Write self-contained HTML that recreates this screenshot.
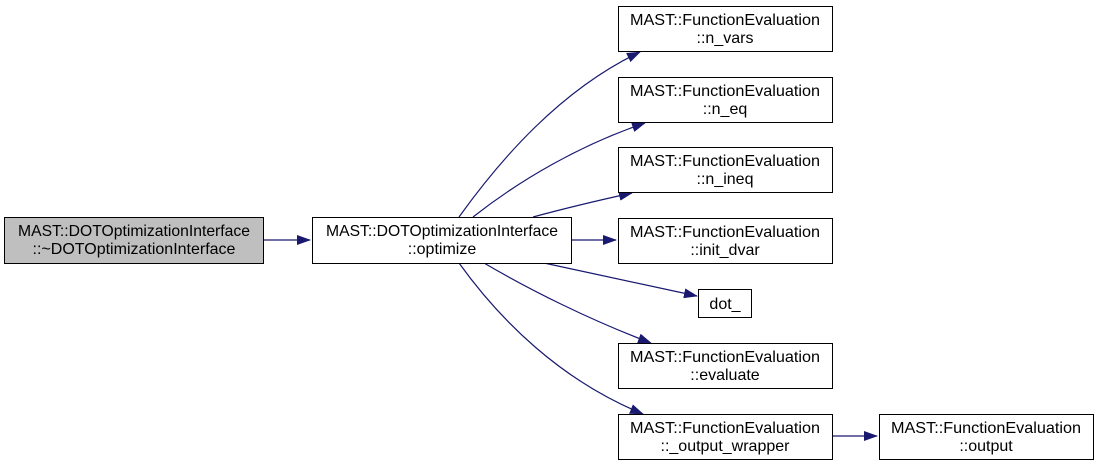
<!DOCTYPE html>
<html><head><style>
body{margin:0;background:#fff;}
svg{display:block;font-family:"Liberation Sans",Arial,sans-serif;font-size:16px;}
</style></head><body>
<svg width="1099" height="465" viewBox="0 0 1099 465">
<defs><marker id="a" markerWidth="14" markerHeight="10" refX="13" refY="5" orient="auto" markerUnits="userSpaceOnUse"><path d="M0,0 L14,5 L0,10 z" fill="#191970"/></marker></defs>
<g fill="none" stroke="#191970" stroke-width="1.2">
<path d="M264,240 L310,240" marker-end="url(#a)"/>
<path d="M459,217 C500,160 560,90 640,52" marker-end="url(#a)"/>
<path d="M473,217 C520,180 580,145 645,123" marker-end="url(#a)"/>
<path d="M533,217 C570,207 600,200 632,193" marker-end="url(#a)"/>
<path d="M571,240 L616,240" marker-end="url(#a)"/>
<path d="M544,263 C590,273 640,284 697,296" marker-end="url(#a)"/>
<path d="M484,263 C530,290 590,320 651,343" marker-end="url(#a)"/>
<path d="M459,263 C500,320 560,380 643,414" marker-end="url(#a)"/>
<path d="M832,436 L877,436" marker-end="url(#a)"/>
</g>
<g stroke="#000" stroke-width="1">
<rect x="4.5" y="217.5" width="259" height="46" fill="#bfbfbf"/>
<rect x="312.5" y="217.5" width="259" height="46" fill="#fff"/>
<rect x="618.5" y="6.5" width="214" height="45" fill="#fff"/>
<rect x="618.5" y="77.5" width="214" height="45" fill="#fff"/>
<rect x="618.5" y="147.5" width="214" height="45" fill="#fff"/>
<rect x="618.5" y="218.5" width="214" height="45" fill="#fff"/>
<rect x="698.5" y="289.5" width="53" height="28" fill="#fff"/>
<rect x="618.5" y="343.5" width="214" height="45" fill="#fff"/>
<rect x="618.5" y="414.5" width="214" height="45" fill="#fff"/>
<rect x="879.5" y="414.5" width="214" height="45" fill="#fff"/>
</g>
<g fill="#000" text-anchor="middle">
<text x="134" y="236" textLength="232" lengthAdjust="spacingAndGlyphs">MAST::DOTOptimizationInterface</text><text x="134" y="254">::~DOTOptimizationInterface</text>
<text x="442" y="236" textLength="232" lengthAdjust="spacingAndGlyphs">MAST::DOTOptimizationInterface</text><text x="442" y="254">::optimize</text>
<text x="725" y="25" textLength="190" lengthAdjust="spacingAndGlyphs">MAST::FunctionEvaluation</text><text x="725" y="43">::n_vars</text>
<text x="725" y="96" textLength="190" lengthAdjust="spacingAndGlyphs">MAST::FunctionEvaluation</text><text x="725" y="114">::n_eq</text>
<text x="725" y="166" textLength="190" lengthAdjust="spacingAndGlyphs">MAST::FunctionEvaluation</text><text x="725" y="184">::n_ineq</text>
<text x="725" y="237" textLength="190" lengthAdjust="spacingAndGlyphs">MAST::FunctionEvaluation</text><text x="725" y="255">::init_dvar</text>
<text x="725" y="309">dot_</text>
<text x="725" y="362" textLength="190" lengthAdjust="spacingAndGlyphs">MAST::FunctionEvaluation</text><text x="725" y="380">::evaluate</text>
<text x="725" y="433" textLength="190" lengthAdjust="spacingAndGlyphs">MAST::FunctionEvaluation</text><text x="725" y="451">::_output_wrapper</text>
<text x="986" y="433" textLength="190" lengthAdjust="spacingAndGlyphs">MAST::FunctionEvaluation</text><text x="986" y="451">::output</text>
</g>
</svg>
</body></html>
